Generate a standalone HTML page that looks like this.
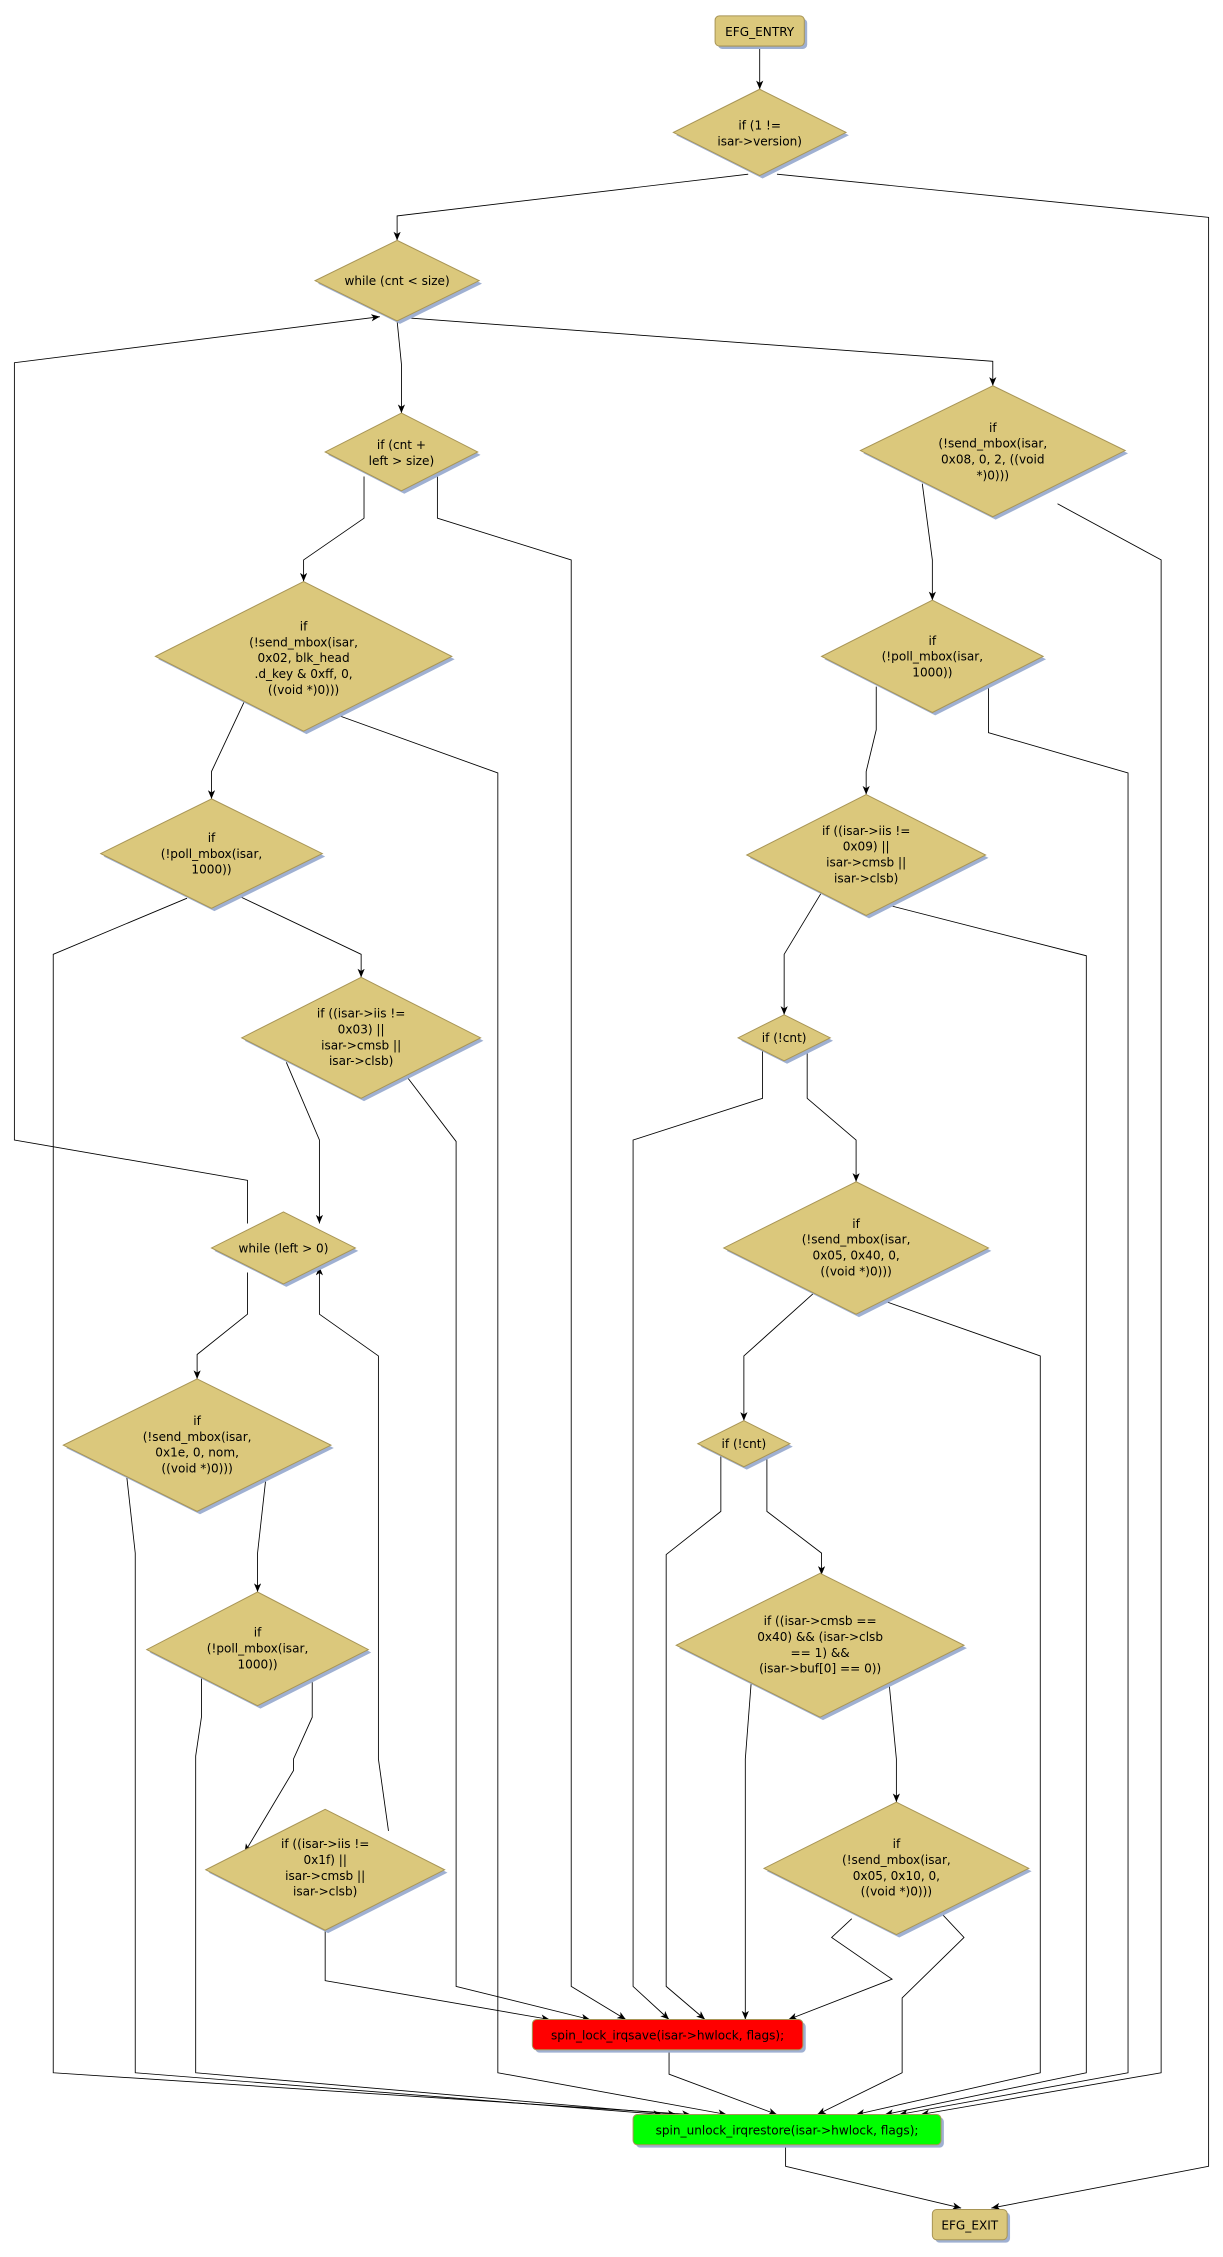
<!DOCTYPE html>
<html><head><meta charset="utf-8"><style>
html,body{margin:0;padding:0;background:#fff;}
svg{display:block}
text{font-family:"DejaVu Sans","Liberation Sans",sans-serif;font-size:8.4px;fill:#000;text-anchor:middle}
.n{fill:#dbc87c;stroke:#a89556;stroke-width:0.7}
.s{fill:#9fb0d2}
.e{fill:none;stroke:#000;stroke-width:0.6}
</style></head><body>
<svg width="1223" height="2257" viewBox="0 0 850 1568" preserveAspectRatio="none" xmlns="http://www.w3.org/2000/svg">
<defs><marker id="a" markerWidth="8" markerHeight="8" refX="6" refY="2.5" orient="auto" markerUnits="userSpaceOnUse"><path d="M0,0 L6,2.5 L0,5 L1.6,2.5 z" fill="#000"/></marker></defs>
<g class="edges">
<polyline class="e" marker-end="url(#a)" points="528,32 528,62"/>
<polyline class="e" marker-end="url(#a)" points="520,121 276,150 276,167"/>
<polyline class="e" marker-end="url(#a)" points="540,121 840,151 840,1505 689,1534"/>
<polyline class="e" marker-end="url(#a)" points="546,1490 546,1505 668,1534"/>
<polyline class="e" marker-end="url(#a)" points="276,223 279,253 279,287"/>
<polyline class="e" marker-end="url(#a)" points="285,221 690,251 690,268"/>
<polyline class="e" marker-end="url(#a)" points="172,850 172,820 10,792 10,252 264,220"/>
<polyline class="e" marker-end="url(#a)" points="253,331 253,360 211,389 211,404"/>
<polyline class="e" marker-end="url(#a)" points="304,330 304,360 397,389 397,1380 435,1403"/>
<polyline class="e" marker-end="url(#a)" points="641,336 648,389 648,417"/>
<polyline class="e" marker-end="url(#a)" points="735,350 807,389 807,1440 640,1469"/>
<polyline class="e" marker-end="url(#a)" points="170,487 147,536 147,555"/>
<polyline class="e" marker-end="url(#a)" points="235,497 346,537 346,1440 505,1469"/>
<polyline class="e" marker-end="url(#a)" points="609,477 609,507 602,536 602,552"/>
<polyline class="e" marker-end="url(#a)" points="687,476 687,509 784,537 784,1440 625,1469"/>
<polyline class="e" marker-end="url(#a)" points="130,624 37,663 37,1440 480,1469"/>
<polyline class="e" marker-end="url(#a)" points="167,623 251,663 251,679"/>
<polyline class="e" marker-end="url(#a)" points="571,620 545,663 545,705"/>
<polyline class="e" marker-end="url(#a)" points="618,629 755,664 755,1440 615,1469"/>
<polyline class="e" marker-end="url(#a)" points="199,738 222,792 222,850"/>
<polyline class="e" marker-end="url(#a)" points="282,747 317,793 317,1380 410,1403"/>
<polyline class="e" marker-end="url(#a)" points="530,729 530,763 440,792 440,1380 465,1403"/>
<polyline class="e" marker-end="url(#a)" points="561,729 561,763 595,792 595,821"/>
<polyline class="e" marker-end="url(#a)" points="172,884 172,913 137,941 137,958"/>
<polyline class="e" marker-end="url(#a)" points="566,898 517,942 517,987"/>
<polyline class="e" marker-end="url(#a)" points="615,904 723,942 723,1440 595,1469"/>
<polyline class="e" marker-end="url(#a)" points="88,1025 94,1079 94,1440 460,1469"/>
<polyline class="e" marker-end="url(#a)" points="185,1025 179,1079 179,1106"/>
<polyline class="e" marker-end="url(#a)" points="501,1011 501,1050 463,1080 463,1380 490,1403"/>
<polyline class="e" marker-end="url(#a)" points="533,1011 533,1050 571,1079 571,1094"/>
<polyline class="e" marker-end="url(#a)" points="140,1163 140,1193 136,1220 136,1440 470,1469"/>
<polyline class="e" marker-end="url(#a)" points="217,1163 217,1193 204,1222 204,1230 170,1287"/>
<polyline class="e" marker-end="url(#a)" points="270,1272 263,1222 263,942 222,913 222,880"/>
<polyline class="e" marker-end="url(#a)" points="226,1341 226,1376 382,1403"/>
<polyline class="e" marker-end="url(#a)" points="522,1170 518,1222 518,1403"/>
<polyline class="e" marker-end="url(#a)" points="618,1170 623,1222 623,1252"/>
<polyline class="e" marker-end="url(#a)" points="592,1333 578,1346 620,1375 548,1403"/>
<polyline class="e" marker-end="url(#a)" points="655,1330 670,1346 627,1388 627,1440 568,1469"/>
<polyline class="e" marker-end="url(#a)" points="465,1424 465,1441 540,1469"/>
</g>
<rect x="499" y="13" width="62" height="21" rx="3" class="s"/>
<rect x="497" y="11" width="62" height="21" rx="3" class="n"/>
<text x="528" y="25">EFG_ENTRY</text>
<rect x="372" y="1405" width="188" height="21" rx="3" class="s"/>
<rect x="370" y="1403" width="188" height="21" rx="3" fill="#ff0000" stroke="#a89556" stroke-width="0.7"/>
<text x="464" y="1417">spin_lock_irqsave(isar-&gt;hwlock, flags);</text>
<rect x="442" y="1471" width="214" height="21" rx="3" class="s"/>
<rect x="440" y="1469" width="214" height="21" rx="3" fill="#00ff00" stroke="#a89556" stroke-width="0.7"/>
<text x="547" y="1483">spin_unlock_irqrestore(isar-&gt;hwlock, flags);</text>
<rect x="650" y="1537" width="52" height="21" rx="3" class="s"/>
<rect x="648" y="1535" width="52" height="21" rx="3" class="n"/>
<text x="674" y="1549">EFG_EXIT</text>
<g id="d">
<polygon class="s" points="530,64 590,94 530,124 470,94"/><polygon class="n" points="528,62 588,92 528,122 468,92"/>
<text x="528" y="90">if (1 !=</text><text x="528" y="101">isar-&gt;version)</text>

<polygon class="s" points="278,169 335,197 278,225 221,197"/><polygon class="n" points="276,167 333,195 276,223 219,195"/>
<text x="276" y="198">while (cnt &lt; size)</text>

<polygon class="s" points="281,289 334,316 281,343 228,316"/><polygon class="n" points="279,287 332,314 279,341 226,314"/>
<text x="279" y="312">if (cnt +</text><text x="279" y="323">left &gt; size)</text>

<polygon class="s" points="692,270 784,315 692,361 600,315"/><polygon class="n" points="690,268 782,313 690,359 598,313"/>
<text x="690" y="300">if</text><text x="690" y="311">(!send_mbox(isar,</text><text x="690" y="322">0x08, 0, 2, ((void</text><text x="690" y="333">*)0)))</text>

<polygon class="s" points="213,406 316,458 213,510 110,458"/><polygon class="n" points="211,404 314,456 211,508 108,456"/>
<text x="211" y="438">if</text><text x="211" y="449">(!send_mbox(isar,</text><text x="211" y="460">0x02, blk_head</text><text x="211" y="471">.d_key &amp; 0xff, 0,</text><text x="211" y="482">((void *)0)))</text>

<polygon class="s" points="650,419 727,458 650,497 573,458"/><polygon class="n" points="648,417 725,456 648,495 571,456"/>
<text x="648" y="448">if</text><text x="648" y="459">(!poll_mbox(isar,</text><text x="648" y="470">1000))</text>

<polygon class="s" points="149,557 226,595 149,633 72,595"/><polygon class="n" points="147,555 224,593 147,631 70,593"/>
<text x="147" y="585">if</text><text x="147" y="596">(!poll_mbox(isar,</text><text x="147" y="607">1000))</text>

<polygon class="s" points="604,554 687,596 604,638 521,596"/><polygon class="n" points="602,552 685,594 602,636 519,594"/>
<text x="602" y="580">if ((isar-&gt;iis !=</text><text x="602" y="591">0x09) ||</text><text x="602" y="602">isar-&gt;cmsb ||</text><text x="602" y="613">isar-&gt;clsb)</text>

<polygon class="s" points="253,681 336,723 253,765 170,723"/><polygon class="n" points="251,679 334,721 251,763 168,721"/>
<text x="251" y="707">if ((isar-&gt;iis !=</text><text x="251" y="718">0x03) ||</text><text x="251" y="729">isar-&gt;cmsb ||</text><text x="251" y="740">isar-&gt;clsb)</text>

<polygon class="s" points="547,707 579,723 547,739 515,723"/><polygon class="n" points="545,705 577,721 545,737 513,721"/>
<text x="545" y="724">if (!cnt)</text>

<polygon class="s" points="199,844 249,869 199,894 149,869"/><polygon class="n" points="197,842 247,867 197,892 147,867"/>
<text x="197" y="870">while (left &gt; 0)</text>

<polygon class="s" points="597,823 689,869 597,915 505,869"/><polygon class="n" points="595,821 687,867 595,913 503,867"/>
<text x="595" y="853">if</text><text x="595" y="864">(!send_mbox(isar,</text><text x="595" y="875">0x05, 0x40, 0,</text><text x="595" y="886">((void *)0)))</text>

<polygon class="s" points="139,960 232,1006 139,1052 46,1006"/><polygon class="n" points="137,958 230,1004 137,1050 44,1004"/>
<text x="137" y="990">if</text><text x="137" y="1001">(!send_mbox(isar,</text><text x="137" y="1012">0x1e, 0, nom,</text><text x="137" y="1023">((void *)0)))</text>

<polygon class="s" points="519,989 551,1005 519,1021 487,1005"/><polygon class="n" points="517,987 549,1003 517,1019 485,1003"/>
<text x="517" y="1006">if (!cnt)</text>

<polygon class="s" points="181,1108 258,1148 181,1187 104,1148"/><polygon class="n" points="179,1106 256,1146 179,1185 102,1146"/>
<text x="179" y="1137">if</text><text x="179" y="1148">(!poll_mbox(isar,</text><text x="179" y="1159">1000))</text>

<polygon class="s" points="572,1095 672,1145 572,1195 472,1145"/><polygon class="n" points="570,1093 670,1143 570,1193 470,1143"/>
<text x="570" y="1129">if ((isar-&gt;cmsb ==</text><text x="570" y="1140">0x40) &amp;&amp; (isar-&gt;clsb</text><text x="570" y="1151">== 1) &amp;&amp;</text><text x="570" y="1162">(isar-&gt;buf[0] == 0))</text>

<polygon class="s" points="228,1259 311,1301 228,1343 145,1301"/><polygon class="n" points="226,1257 309,1299 226,1341 143,1299"/>
<text x="226" y="1284">if ((isar-&gt;iis !=</text><text x="226" y="1295">0x1f) ||</text><text x="226" y="1306">isar-&gt;cmsb ||</text><text x="226" y="1317">isar-&gt;clsb)</text>

<polygon class="s" points="625,1254 717,1300 625,1346 533,1300"/><polygon class="n" points="623,1252 715,1298 623,1344 531,1298"/>
<text x="623" y="1284">if</text><text x="623" y="1295">(!send_mbox(isar,</text><text x="623" y="1306">0x05, 0x10, 0,</text><text x="623" y="1317">((void *)0)))</text>
</g>
</svg>
</body></html>
